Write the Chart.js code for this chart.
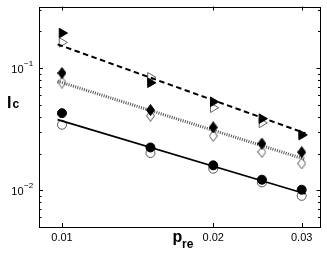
<!DOCTYPE html>
<html>
<head>
<meta charset="utf-8">
<script src="https://cdn.jsdelivr.net/npm/chart.js@4/dist/chart.umd.min.js"></script>
<style>
  html, body { margin: 0; padding: 0; background: #fff; }
  #wrap { width: 327px; height: 258px; }
</style>
</head>
<body>
<div id="wrap"><canvas id="chartIc" width="327" height="258"></canvas></div>
<script>
// --- data ---
var pre = [0.01, 0.015, 0.02, 0.025, 0.03];
var triFilled = [0.194, 0.076, 0.053, 0.0386, 0.0285];
var triOpen = [0.1625, 0.0842, 0.0474, 0.0356, 0.0282];
var diaFilled = [0.0912, 0.0454, 0.0327, 0.0241, 0.0205];
var diaOpen = [0.0763, 0.0408, 0.0279, 0.0206, 0.0166];
var circFilled = [0.0428, 0.0224, 0.016, 0.0122, 0.0101];
var circOpen = [0.0344, 0.0202, 0.015, 0.0116, 0.009];

// fitted power laws (straight on log-log), end points
var fitX = [0.0098, 0.0305];
var fitDashed = [0.1567, 0.0293];
var fitDotted = [0.0782, 0.0179];
var fitSolid = [0.0379, 0.00937];

var xTicks = [0.01, 0.02, 0.03];
var xTickLabels = ['0.01', '0.02', '0.03'];
var yTicks = [0.01, 0.1];
var yTickExp = ['\u22122', '\u22121'];
var yMinor = [0.005, 0.006, 0.007, 0.008, 0.009, 0.02, 0.03, 0.04, 0.05, 0.06, 0.07, 0.08, 0.09, 0.2, 0.3];

function pts(xs, ys) {
    return xs.map(function(x, i) { return { x: x, y: ys[i] }; });
}

// MATLAB style diamond (taller than wide)
function diamond(fill, stroke) {
    var c = document.createElement('canvas');
    c.width = 9; c.height = 12;
    var g = c.getContext('2d');
    g.beginPath();
    g.moveTo(4.5, 0.5); g.lineTo(8.5, 6); g.lineTo(4.5, 11.5); g.lineTo(0.5, 6); g.closePath();
    g.fillStyle = fill; g.fill();
    g.lineWidth = 1; g.strokeStyle = stroke; g.stroke();
    return c;
}

function markers(data, style, filled, order, extra) {
    var ds = {
        data: data, showLine: false, order: order,
        pointStyle: style, pointRadius: 5,
        backgroundColor: filled ? '#000' : '#fff',
        borderColor: filled ? '#000' : '#555',
        borderWidth: 1
    };
    for (var k in extra) ds[k] = extra[k];
    return ds;
}

function fitLine(data, width, dash, color) {
    return { data: data, showLine: true, order: 1, pointRadius: 0, borderColor: color, borderWidth: width, borderDash: dash, fill: false };
}

var frame = {
    id: 'frame',
    afterDraw: function(chart) {
        var ctx = chart.ctx, a = chart.chartArea, xs = chart.scales.x, ys = chart.scales.y;
        ctx.save();
        ctx.strokeStyle = '#000';
        ctx.lineWidth = 1;
        ctx.strokeRect(Math.round(a.left) + 0.5, Math.round(a.top) + 0.5, Math.round(a.right - a.left) - 1, Math.round(a.bottom - a.top) - 1);
        ctx.beginPath();
        xTicks.forEach(function(v) {
            var px = Math.round(xs.getPixelForValue(v)) + 0.5;
            ctx.moveTo(px, a.bottom); ctx.lineTo(px, a.bottom - 4);
            ctx.moveTo(px, a.top); ctx.lineTo(px, a.top + 4);
        });
        yTicks.forEach(function(v) {
            var py = Math.round(ys.getPixelForValue(v)) + 0.5;
            ctx.moveTo(a.left, py); ctx.lineTo(a.left + 4, py);
            ctx.moveTo(a.right, py); ctx.lineTo(a.right - 4, py);
        });
        yMinor.forEach(function(v) {
            var py = Math.round(ys.getPixelForValue(v)) + 0.5;
            ctx.moveTo(a.left, py); ctx.lineTo(a.left + 2.5, py);
            ctx.moveTo(a.right, py); ctx.lineTo(a.right - 2.5, py);
        });
        ctx.stroke();

        // y tick labels 10^n
        ctx.fillStyle = '#000';
        yTicks.forEach(function(v, i) {
            var py = ys.getPixelForValue(v);
            ctx.font = '11px "Liberation Sans", Arial, sans-serif';
            ctx.textAlign = 'right'; ctx.textBaseline = 'alphabetic';
            ctx.fillText('10', 23.5, py + 4.5);
            ctx.font = '8px "Liberation Sans", Arial, sans-serif';
            ctx.textAlign = 'left';
            ctx.fillText(yTickExp[i], 24, py - 2);
        });

        // axis titles
        ctx.textAlign = 'left'; ctx.textBaseline = 'alphabetic';
        ctx.font = 'bold 16px "Liberation Sans", Arial, sans-serif';
        ctx.fillText('I', 7, 107.5);
        ctx.font = 'bold 12px "Liberation Sans", Arial, sans-serif';
        ctx.fillText('c', 12.5, 108);
        ctx.font = 'bold 16px "Liberation Sans", Arial, sans-serif';
        ctx.fillText('p', 172.5, 242);
        ctx.font = 'bold 12px "Liberation Sans", Arial, sans-serif';
        ctx.fillText('re', 182, 248);
        ctx.restore();
    }
};

new Chart(document.getElementById('chartIc'), {
    type: 'scatter',
    data: {
        datasets: [
            markers(pts(pre, triOpen), 'triangle', false, 2, { pointRotation: 90, pointRadius: 5.5, borderColor: '#666' }),
            markers(pts(pre, diaOpen), diamond('#fff', '#555'), false, 2),
            markers(pts(pre, circOpen), 'circle', false, 2, { pointRadius: 4.5 }),
            fitLine(pts(fitX, fitDashed), 2, [5.5, 3.5], '#000'),
            fitLine(pts(fitX, fitDotted), 3, [1, 1.3], '#555'),
            fitLine(pts(fitX, fitSolid), 1.6, [], '#000'),
            markers(pts(pre, triFilled), 'triangle', true, 0, { pointRotation: 90, pointRadius: 5.5 }),
            markers(pts(pre, diaFilled), diamond('#000', '#000'), true, 0),
            markers(pts(pre, circFilled), 'circle', true, 0, { pointRadius: 4.5 })
        ]
    },
    options: {
        responsive: false, animation: false, devicePixelRatio: 1,
        layout: { padding: { left: 0, right: 5, top: 3, bottom: 0 } },
        plugins: { legend: { display: false }, tooltip: { enabled: false } },
        scales: {
            x: {
                type: 'logarithmic', min: 0.009, max: 0.0327,
                grid: { display: false, drawTicks: false }, border: { display: false },
                afterBuildTicks: function(s) { s.ticks = xTicks.map(function(v) { return { value: v }; }); },
                afterFit: function(s) { s.height = 31; },
                ticks: {
                    padding: 4, color: '#000', maxRotation: 0, autoSkip: false,
                    font: { family: '"Liberation Sans", Arial, sans-serif', size: 11 },
                    callback: function(v) { var i = xTicks.indexOf(v); return i >= 0 ? xTickLabels[i] : ''; }
                }
            },
            y: {
                type: 'logarithmic', min: 0.005, max: 0.32,
                grid: { display: false, drawTicks: false }, border: { display: false },
                ticks: { display: false },
                afterFit: function(s) { s.width = 39; }
            }
        }
    },
    plugins: [frame]
});
</script>
</body>
</html>
